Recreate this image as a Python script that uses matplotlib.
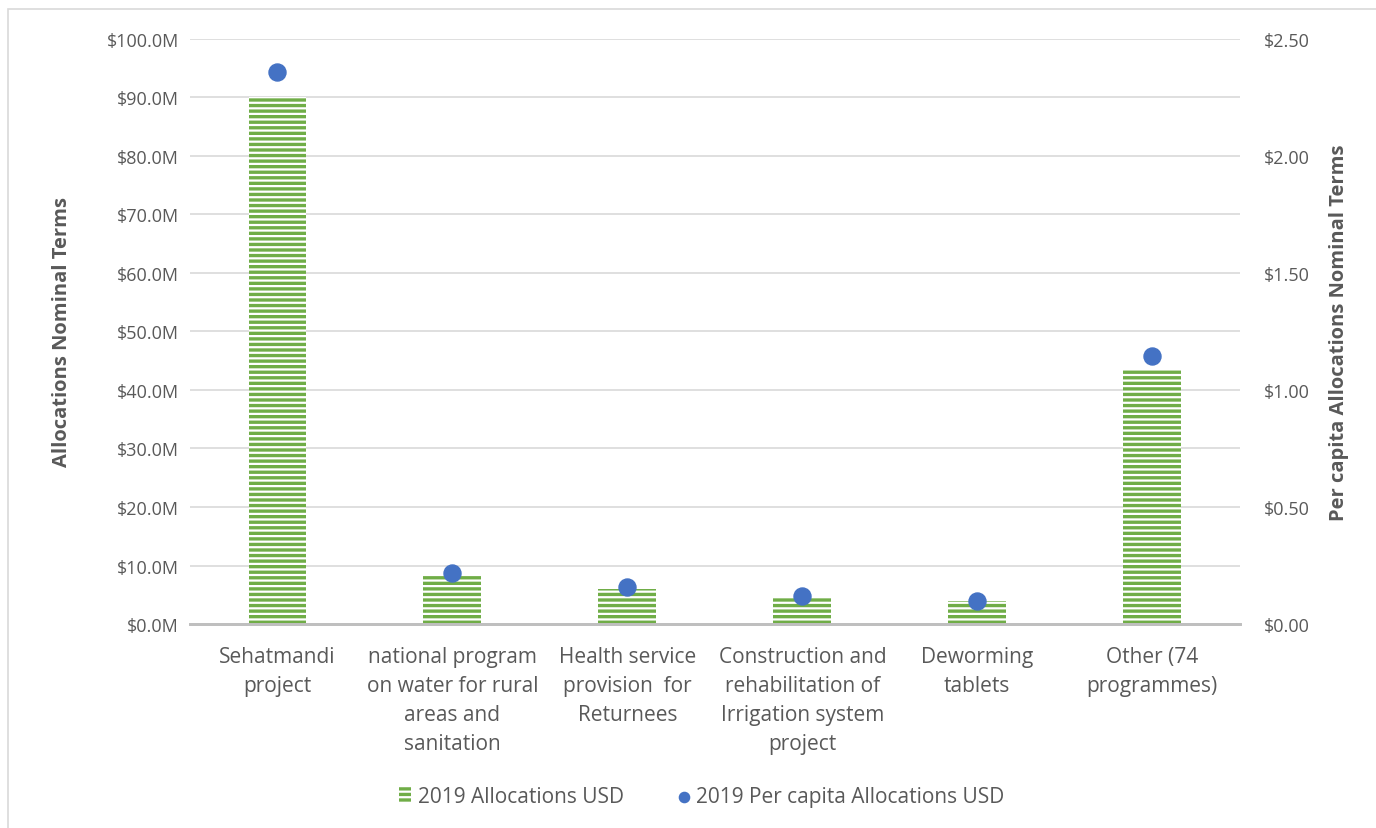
import matplotlib.pyplot as plt
import matplotlib.patches as mpatches
from matplotlib.ticker import FuncFormatter
import numpy as np

categories = ['Sehatmandi\nproject',
              'national program\non water for rural\nareas and\nsanitation',
              'Health service\nprovision  for\nReturnees',
              'Construction and\nrehabilitation of\nIrrigation system\nproject',
              'Deworming\ntablets',
              'Other (74\nprogrammes)']
alloc_musd = [90.1, 8.4, 6.0, 4.6, 3.9, 43.6]
per_capita = [2.36, 0.22, 0.16, 0.12, 0.10, 1.145]

plt.rcParams['font.family'] = ['Open Sans', 'DejaVu Sans']
plt.rcParams['hatch.linewidth'] = 1.6
grey = '#595959'
green = '#70AD47'
blue = '#4472C4'

fig = plt.figure(figsize=(13.76, 8.29), dpi=100)
ax = fig.add_axes([0.138, 0.246, 0.763, 0.706])
ax2 = ax.twinx()

x = np.arange(len(categories))
ax.bar(x, alloc_musd, width=0.33, color=green, edgecolor='white', linewidth=0,
       hatch='---', zorder=2, label='2019 Allocations USD')
ax2.scatter(x, per_capita, s=150, color=blue, zorder=3,
            label='2019 Per capita Allocations USD')

ax.set_xlim(-0.5, len(categories) - 0.5)
ax.set_ylim(0, 100)
ax2.set_ylim(0, 2.5)
ax.set_yticks(np.arange(0, 101, 10))
ax2.set_yticks(np.arange(0, 2.51, 0.5))
ax.yaxis.set_major_formatter(FuncFormatter(lambda v, p: f'${v:.1f}M'))
ax2.yaxis.set_major_formatter(FuncFormatter(lambda v, p: f'${v:.2f}'))

ax.set_xticks(x)
ax.set_xticklabels(categories, fontsize=15, color=grey, linespacing=1.5, va='top')
ax.tick_params(axis='x', length=0, pad=16)
ax.tick_params(axis='y', length=0, labelsize=13, labelcolor=grey, pad=8)
ax2.tick_params(axis='y', length=0, labelsize=13, labelcolor=grey, pad=17)

ax.grid(axis='y', color='#D9D9D9', linewidth=1.2, zorder=0)
ax.set_axisbelow(True)
for a in (ax, ax2):
    for s in ['top', 'left', 'right']:
        a.spines[s].set_visible(False)
    a.spines['bottom'].set_color('#BFBFBF')
    a.spines['bottom'].set_linewidth(2)

ax.set_ylabel('Allocations Nominal Terms', fontsize=14.5, fontweight='bold',
              color=grey, labelpad=25)
ax2.set_ylabel('Per capita Allocations Nominal Terms', fontsize=14.5,
               fontweight='bold', color=grey, labelpad=14)

h1, l1 = ax.get_legend_handles_labels()
h2, l2 = ax2.get_legend_handles_labels()
fig.legend(h1 + h2, l1 + l2, loc='center', bbox_to_anchor=(0.51, 0.038),
           ncol=2, frameon=False, fontsize=15, labelcolor=grey,
           handlelength=0.6, handletextpad=0.3, columnspacing=2.6,
           markerscale=0.6)

fig.patches.append(mpatches.Rectangle((0.006, -0.01), 1.0, 0.998,
                                      transform=fig.transFigure, fill=False,
                                      edgecolor='#D9D9D9', linewidth=1.2))

fig.savefig('out.png', dpi=100)
